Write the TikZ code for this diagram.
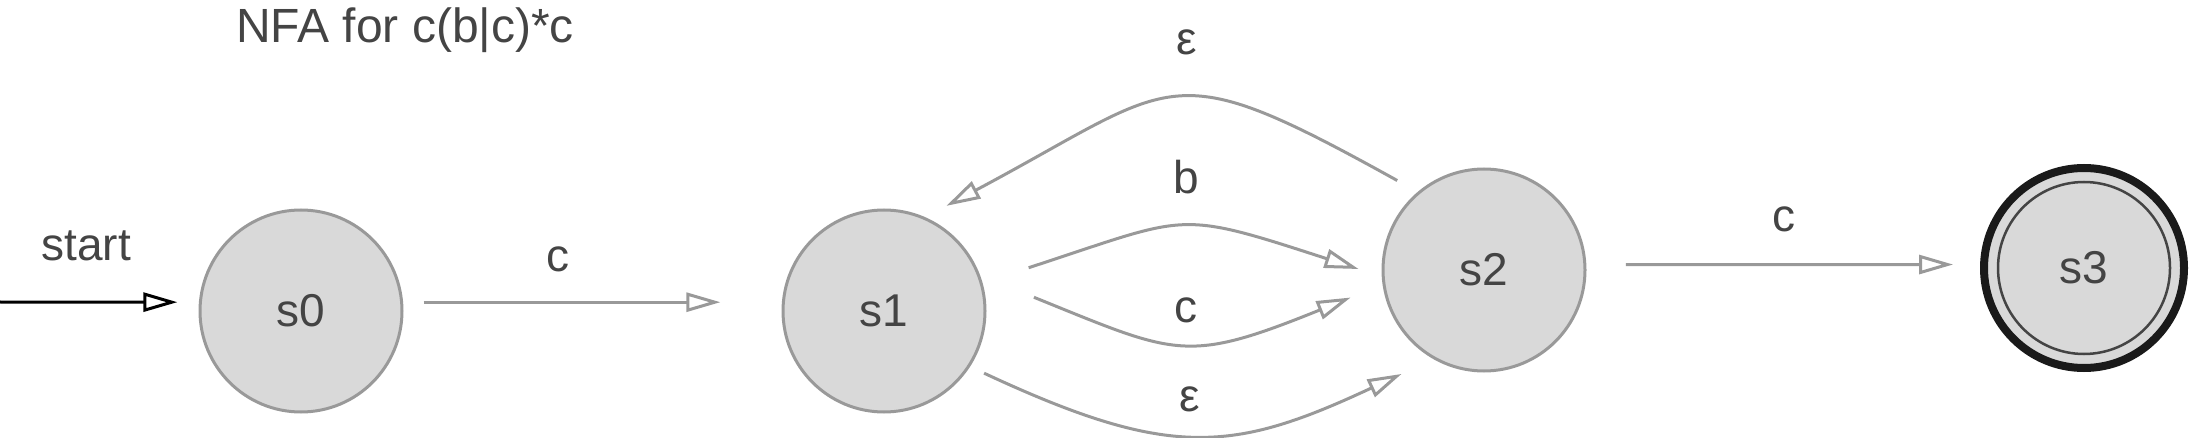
\documentclass[tikz,border=0pt]{standalone}
\usepackage{fontspec}
\setmainfont{Liberation Sans}
\usepackage{tikz}
\usetikzlibrary{arrows.meta}
\usetikzlibrary{positioning, automata, calc}
\definecolor{stategray}{HTML}{D9D9D9}
\definecolor{edgegray}{HTML}{999999}
\definecolor{textgray}{HTML}{444444}
\definecolor{ringblack}{HTML}{1A1A1A}

\begin{document}
\begin{tikzpicture}[x=1pt, y=-1pt,
    every state/.style={circle, fill=stategray, draw=edgegray, line width=3pt,
        minimum size=202pt, inner sep=0pt, outer sep=0pt, text=textgray,
        font=\fontsize{46}{50}\selectfont},
    lbl/.style={text=textgray, font=\fontsize{46}{50}\selectfont, inner sep=0pt},
    edge/.style={draw=edgegray, line width=3pt,
        -{Triangle[open, length=34pt, width=19pt]}}]
\useasboundingbox (0,0) rectangle (2190,438);

\node[lbl, anchor=base, font=\fontsize{48}{52}\selectfont] (title) at (405, 43) {NFA for c(b|c)*c};

\node[state] (s0) at (301, 311) {s0};
\node[state] (s1) at (884, 311) {s1};
\node[state] (s2) at (1484, 270) {s2};
\node[state, draw=ringblack, line width=8pt, minimum size=200pt] (s3) at (2084, 268) {s3};
\draw[textgray, line width=2.5pt] (s3.center) circle (86);

\coordinate (start) at (0, 302);

\draw [line width=3pt, -{Triangle[open, length=34pt, width=19pt]}, shorten >=23pt]
    (start) to node[lbl, pos=0.43, above=40pt] {start} (s0.175);
\draw [edge, shorten <=22pt, shorten >=63pt]
    (s0.5) to node[lbl, pos=0.41, above=29pt] {c} (s1.175);
\draw [edge, shorten <=50pt, shorten >=26pt]
    (s1.16) to[out=18, in=162, looseness=1.4] node[lbl, pos=0.515, above=33pt] {b} (s2.184);
\draw [edge, shorten <=60pt, shorten >=36pt]
    (s1.21) to[out=-22, in=-158, looseness=1.35] node[lbl, pos=0.515, above=15pt] {c} (s2.188);
\draw [edge, shorten <=17pt, shorten >=37pt]
    (s1.-33) to[out=-25, in=-155, looseness=1.22] node[lbl, pos=0.47, above=19pt] {ε} (s2.241);
\draw [edge, shorten <=25pt, shorten >=26pt]
    (s2.130) to[out=151, in=28, looseness=1.5] node[lbl, pos=0.46, above=44pt] {ε} (s1.67);
\draw [edge, shorten <=41pt, shorten >=31pt]
    (s2.3) to node[lbl, pos=0.5, above=31pt] {c} (s3.178);

\end{tikzpicture}
\end{document}
